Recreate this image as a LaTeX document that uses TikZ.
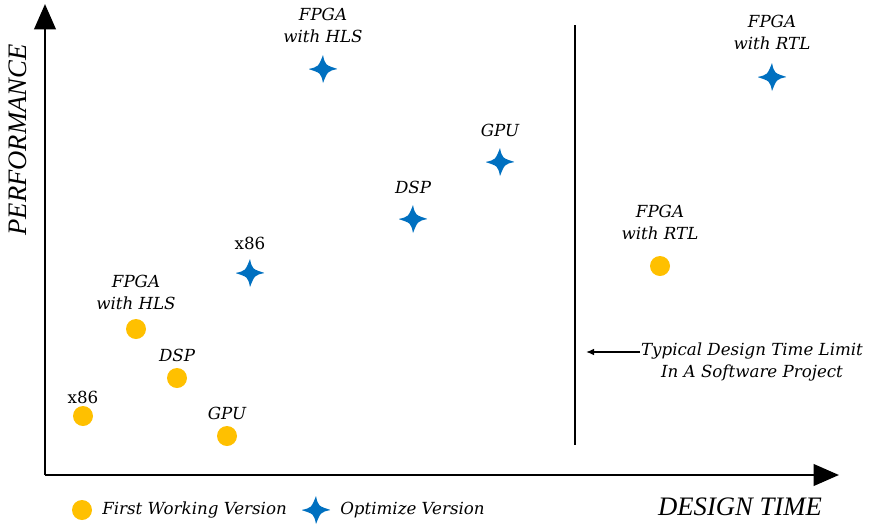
\documentclass[tikz,border=0pt]{standalone}
\usepackage{fontspec}
\setmainfont{Liberation Serif}
\newfontfamily\lblfont{DejaVu Serif}
\usetikzlibrary{arrows.meta}
\definecolor{dotorange}{HTML}{FFC000}
\definecolor{starblue}{HTML}{0070C0}
\tikzset{
  firstdot/.style={circle, fill=dotorange, minimum size=15pt, inner sep=0pt},
  optstar/.style={inner sep=0pt, minimum size=21pt,
    path picture={\fill[starblue]
      ([yshift=10.5pt]path picture bounding box.center) .. controls +(1.6pt,-7.5pt) .. ([xshift=11pt]path picture bounding box.center)
      .. controls +(-7.5pt,-1.6pt) .. ([yshift=-10.5pt]path picture bounding box.center)
      .. controls +(-1.6pt,7.5pt) .. ([xshift=-11pt]path picture bounding box.center)
      .. controls +(7.5pt,1.6pt) .. cycle;}},
  lbl/.style={font=\lblfont\fontsize{12.5}{16.5}\selectfont\itshape, align=center, inner sep=0pt},
  lblup/.style={font=\lblfont\fontsize{12.5}{16.5}\selectfont, align=center, inner sep=0pt},
  axis/.style={line width=2.2pt, -{Triangle[length=19pt,width=16pt]}},
  axlbl/.style={font=\fontsize{20}{24}\selectfont\itshape, inner sep=0pt},
}
\begin{document}
\begin{tikzpicture}[x=0.75pt, y=-0.75pt]
  \useasboundingbox (0,0) rectangle (886,526);

  % axes
  \coordinate (origin) at (45,475);
  \coordinate (ytop) at (45,4);
  \coordinate (xend) at (839,475);
  \draw[axis] (origin) -- (ytop);
  \draw[axis] (origin) -- (xend);
  \node[axlbl, rotate=90] (perf) at (18,140) {PERFORMANCE};
  \node[axlbl] (dtime) at (740,507) {DESIGN TIME};

  % design time limit
  \coordinate (limtop) at (575,25);
  \coordinate (limbot) at (575,445);
  \draw[line width=2.2pt] (limtop) -- (limbot);
  \node[lbl] (limtxt) at (752,362) {Typical Design Time Limit\\In A Software Project};
  \coordinate (arrstart) at (640,352);
  \coordinate (arrend) at (586,352);
  \draw[line width=1.1pt, -{Latex[length=6pt,width=5pt]}] (arrstart) -- (arrend);

  % first working versions
  \node[firstdot] (fx86) at (83,416) {};
  \node[lblup] (fx86l) at (83,397) {x86};
  \node[firstdot] (fhls) at (136,329) {};
  \node[lbl] (fhlsl) at (136,292) {FPGA\\with HLS};
  \node[firstdot] (fdsp) at (177,378) {};
  \node[lbl] (fdspl) at (177,355) {DSP};
  \node[firstdot] (fgpu) at (227,436) {};
  \node[lbl] (fgpul) at (227,413) {GPU};
  \node[firstdot] (frtl) at (660,266) {};
  \node[lbl] (frtll) at (660,222) {FPGA\\with RTL};

  % optimized versions
  \node[optstar] (ohls) at (323,69) {};
  \node[lbl] (ohlsl) at (323,25) {FPGA\\with HLS};
  \node[optstar] (ox86) at (250,273) {};
  \node[lblup] (ox86l) at (250,243) {x86};
  \node[optstar] (odsp) at (413,219) {};
  \node[lbl] (odspl) at (413,187) {DSP};
  \node[optstar] (ogpu) at (500,162) {};
  \node[lbl] (ogpul) at (500,130) {GPU};
  \node[optstar] (ortl) at (772,77) {};
  \node[lbl] (ortll) at (772,32) {FPGA\\with RTL};

  % legend
  \node[firstdot] (legdot) at (82,510) {};
  \node[lbl, anchor=west] (legdotl) at (102,510) {First Working Version};
  \node[optstar] (legstar) at (316,510) {};
  \node[lbl, anchor=west] (legstarl) at (340,510) {Optimize Version};
\end{tikzpicture}
\end{document}
